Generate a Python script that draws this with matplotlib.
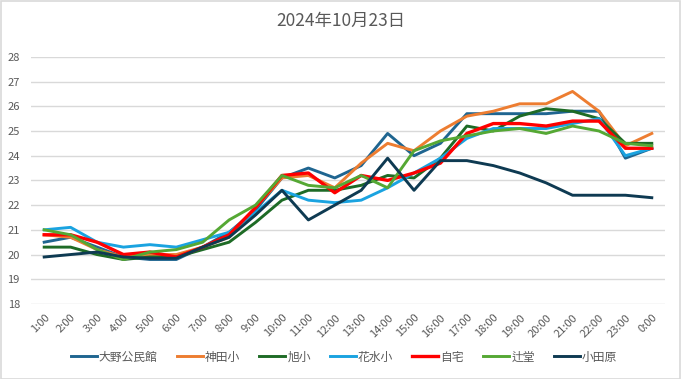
import matplotlib
matplotlib.use("Agg")
import matplotlib.pyplot as plt
from matplotlib.patches import Rectangle

plt.rcParams['font.family'] = ['Noto Sans CJK JP', 'DejaVu Sans']

title = "2024年10月23日"
hours = ["1:00", "2:00", "3:00", "4:00", "5:00", "6:00", "7:00", "8:00", "9:00", "10:00",
         "11:00", "12:00", "13:00", "14:00", "15:00", "16:00", "17:00", "18:00", "19:00",
         "20:00", "21:00", "22:00", "23:00", "0:00"]

ono = [20.5, 20.7, 20.3, 19.9, 19.8, 19.8, 20.3, 20.9, 21.8, 23.1, 23.5, 23.1, 23.6, 24.9,
       24.0, 24.5, 25.7, 25.7, 25.7, 25.7, 25.8, 25.8, 23.9, 24.3]
kanda = [20.8, 20.7, 20.2, 19.9, 20.0, 20.0, 20.3, 20.7, 21.9, 23.1, 23.2, 22.7, 23.7, 24.5,
         24.2, 25.0, 25.6, 25.8, 26.1, 26.1, 26.6, 25.8, 24.4, 24.9]
asahi = [20.3, 20.3, 20.0, 19.8, 19.9, 19.9, 20.2, 20.5, 21.3, 22.2, 22.6, 22.6, 22.8, 23.2,
         23.1, 23.9, 25.2, 25.0, 25.6, 25.9, 25.8, 25.5, 24.5, 24.5]
hanamizu = [21.0, 21.1, 20.5, 20.3, 20.4, 20.3, 20.6, 20.9, 21.7, 22.6, 22.2, 22.1, 22.2, 22.7,
            23.3, 23.9, 24.7, 25.1, 25.1, 25.1, 25.3, 25.5, 24.0, 24.3]
jitaku = [20.8, 20.8, 20.5, 20.0, 20.1, 19.9, 20.3, 20.8, 21.9, 23.2, 23.3, 22.5, 23.2, 23.0,
          23.3, 23.7, 24.9, 25.3, 25.3, 25.2, 25.4, 25.4, 24.3, 24.3]
tsujido = [21.0, 20.8, 20.2, 19.8, 20.1, 20.2, 20.5, 21.4, 22.0, 23.2, 22.8, 22.7, 23.2, 22.7,
           24.2, 24.6, 24.8, 25.0, 25.1, 24.9, 25.2, 25.0, 24.5, 24.4]
odawara = [19.9, 20.0, 20.1, 19.9, 19.85, 19.85, 20.3, 20.7, 21.6, 22.6, 21.4, 22.0, 22.6, 23.9,
           22.6, 23.8, 23.8, 23.6, 23.3, 22.9, 22.4, 22.4, 22.4, 22.3]

series_names = ["大野公民館", "神田小", "旭小", "花水小", "自宅", "辻堂", "小田原"]
series_values = [ono, kanda, asahi, hanamizu, jitaku, tsujido, odawara]
colors = ["#1F6590", "#ED7D31", "#1E6B26", "#1AA3E0", "#FF0000", "#55A834", "#0E3A52"]

fig = plt.figure(figsize=(6.81, 3.79), dpi=100)
fig.patches.append(Rectangle((0.001, 0.001), 0.997, 0.997, transform=fig.transFigure,
                             fill=False, edgecolor="#D9D9D9", linewidth=1.2))
ax = fig.add_axes([0.0455, 0.198, 0.931, 0.652])

x = list(range(len(hours)))
for name, vals, c in zip(series_names, series_values, colors):
    lw = 2.4 if name == "自宅" else 2.1
    ax.plot(x, vals, color=c, lw=lw, label=name, solid_joinstyle='round')

ax.set_xlim(-0.5, len(hours) - 0.5)
ax.set_ylim(18, 28)
ax.set_yticks(range(18, 29))
ax.grid(axis='y', color="#D9D9D9", lw=1)
ax.set_axisbelow(True)
for s in ax.spines.values():
    s.set_visible(False)
ax.tick_params(axis='both', length=0, colors="#595959", labelsize=8)
ax.set_xticks(x)
ax.set_xticklabels(hours, rotation=45, ha='right', rotation_mode='anchor')
ax.tick_params(axis='x', pad=6)
ax.tick_params(axis='y', pad=8)

fig.text(0.5, 0.945, title, ha='center', va='center', fontsize=12.5, color="#595959")

leg = fig.legend(loc='center', bbox_to_anchor=(0.505, 0.058), ncol=7, frameon=False,
                 fontsize=8.5, handlelength=2.2, handletextpad=0.2, columnspacing=1.6)
for t in leg.get_texts():
    t.set_color("#595959")

fig.savefig("out.png", dpi=100)
